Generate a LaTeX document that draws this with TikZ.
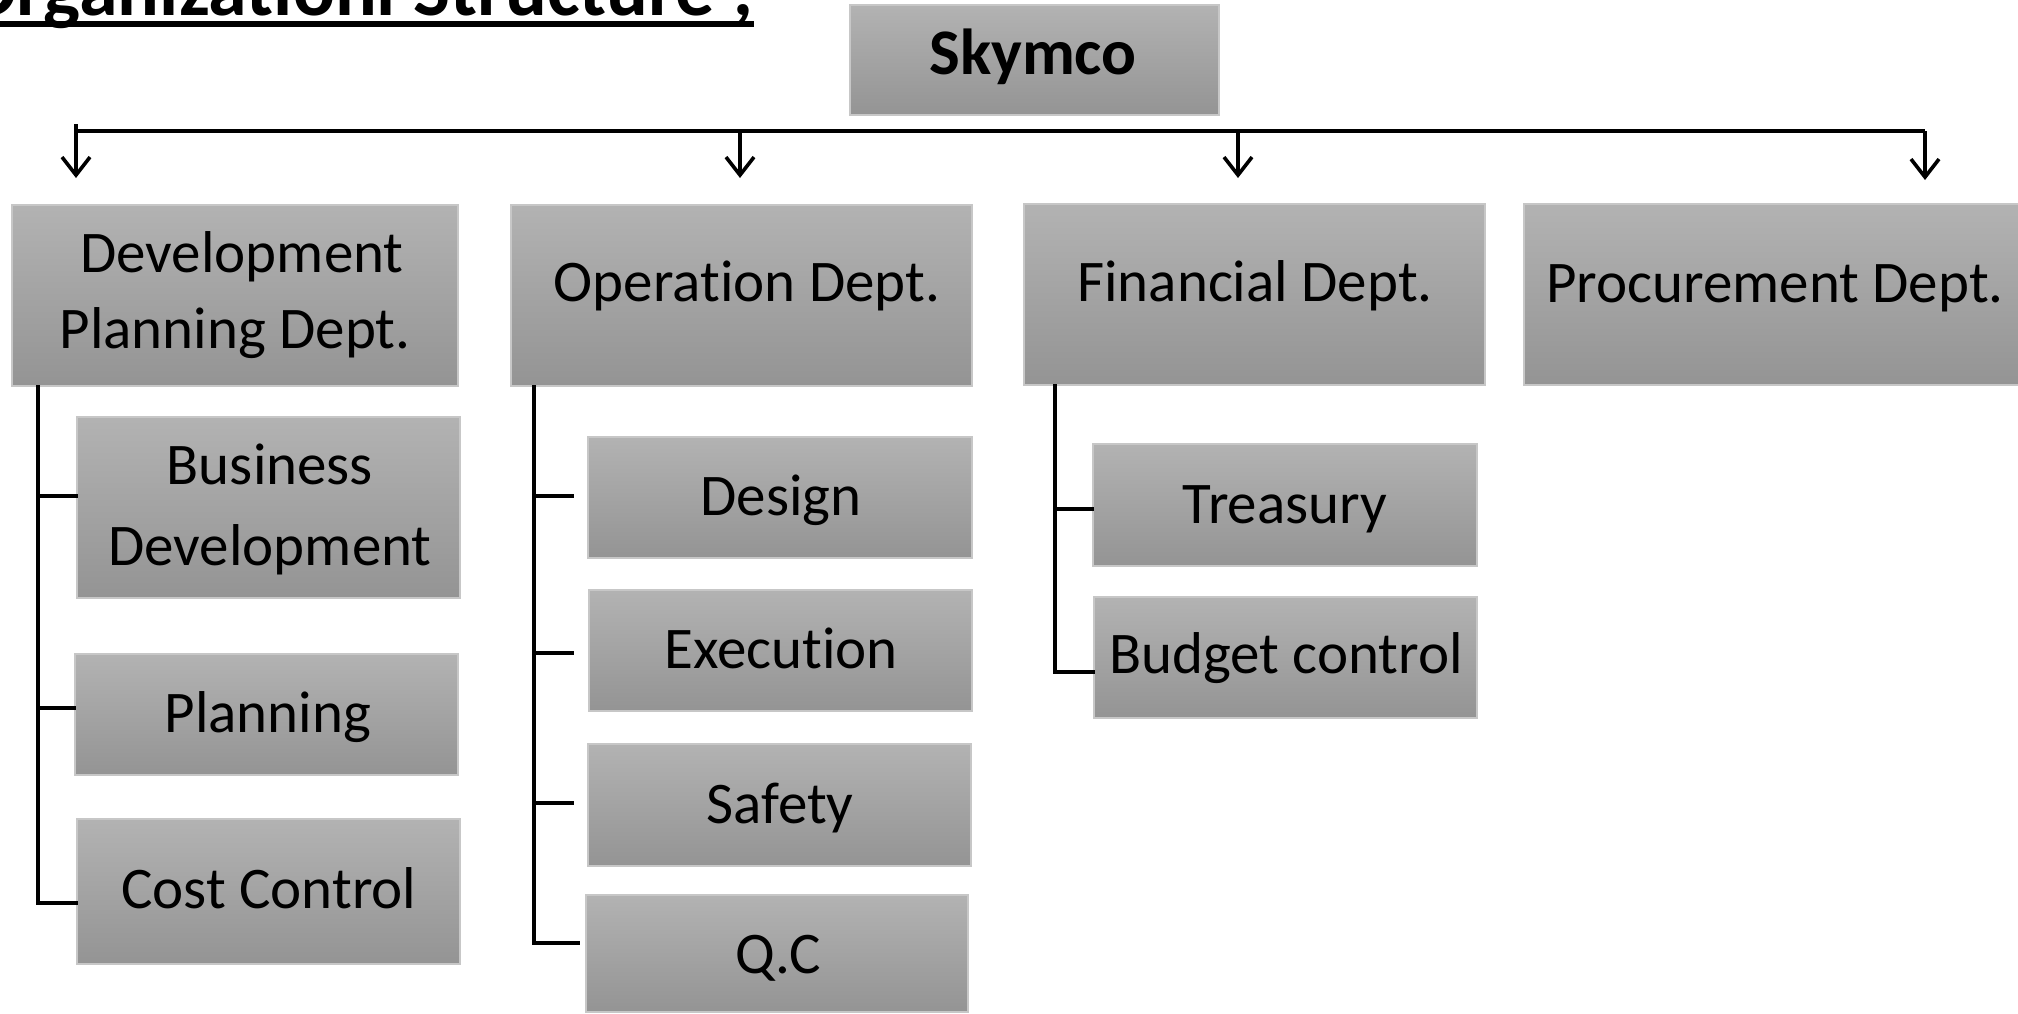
\documentclass[tikz,border=0pt]{standalone}
\usepackage{fontspec}
\setmainfont{Carlito}[RawFeature={-liga}]
\usetikzlibrary{arrows.meta}
\begin{document}
\begin{tikzpicture}[x=1pt,y=-1pt,
  box/.style={draw=black!22, line width=1.2pt, top color=black!30, bottom color=black!42, inner sep=0, rectangle},
  txt/.style={inner sep=0, anchor=base, font=\fontsize{59}{62}\selectfont},
  conn/.style={line width=4pt, black, line cap=rect, line join=miter},
  arr/.style={line width=3.6pt, black, -{Straight Barb[length=18pt,width=28pt,line width=3.6pt]}}]
\useasboundingbox (0,0) rectangle (2018,1013);
\fill[white] (0,0) rectangle (2018,1013);

% title
\node[inner sep=0, anchor=base east, font=\fontsize{78}{82}\selectfont\bfseries] (title) at (754,15) {Organizationl Structure ;};
\draw[line width=6pt] (title.base west |- 0,24) -- (title.base east |- 0,24);

% top box
\node[box, minimum width=369pt, minimum height=110pt] (sky) at (1034.5,60) {};
\node[txt, font=\fontsize{65}{68}\selectfont\bfseries] (skyt) at (1033,74) {Skymco};

% department boxes
\node[box, minimum width=446pt, minimum height=181pt] (dpd) at (235,295.5) {};
\node[box, minimum width=461pt, minimum height=181pt] (opd) at (741.5,295.5) {};
\node[box, minimum width=461pt, minimum height=181pt] (fin) at (1254.5,294.5) {};
\node[box, minimum width=506pt, minimum height=181pt] (pro) at (1777,294.5) {};
\node[txt] (dpdt1) at (242,272) {Development};
\node[txt] (dpdt2) at (235,348) {Planning Dept.};
\node[txt] (opdt) at (747,301) {Operation Dept.};
\node[txt] (fint) at (1255,301) {Financial Dept.};
\node[txt] (prot) at (1775,302) {Procurement Dept.};

% sub boxes
\node[box, minimum width=383pt, minimum height=181pt] (bd) at (268.5,507.5) {};
\node[box, minimum width=383pt, minimum height=121pt] (pl) at (266.5,714.5) {};
\node[box, minimum width=383pt, minimum height=145pt] (cc) at (268.5,891.5) {};
\node[txt] (bdt1) at (270,484) {Business};
\node[txt] (bdt2) at (270,565) {Development};
\node[txt] (plt) at (268,732) {Planning};
\node[txt] (cct) at (269,908) {Cost Control};

\node[box, minimum width=384pt, minimum height=121pt] (de) at (780,497.5) {};
\node[box, minimum width=383pt, minimum height=121pt] (ex) at (780.5,650.5) {};
\node[box, minimum width=383pt, minimum height=122pt] (sa) at (779.5,805) {};
\node[box, minimum width=382pt, minimum height=117pt] (qc) at (777,953.5) {};
\node[txt] (det) at (781,515) {Design};
\node[txt] (ext) at (781,668) {Execution};
\node[txt] (sat) at (780,823) {Safety};
\node[txt] (qct) at (778,973) {Q.C};

\node[box, minimum width=384pt, minimum height=122pt] (tr) at (1285,505) {};
\node[box, minimum width=383pt, minimum height=121pt] (bc) at (1285.5,657.5) {};
\node[txt] (trt) at (1285,523) {Treasury};
\node[txt] (bct) at (1286,673) {Budget control};

% top bar and arrows
\coordinate (bar) at (0,131);
\coordinate (a1) at (76,178);
\coordinate (a2) at (740,178);
\coordinate (a3) at (1238,178);
\coordinate (a4) at (1925,180);
\draw[line width=3.6pt] (a1 |- bar) -- (a4 |- bar);
\draw[line width=3.6pt] (a1 |- 0,124) -- (a1 |- bar);
\foreach \a in {a1,a2,a3,a4} \draw[arr] (\a |- bar) -- (\a);

% trunks: development planning
\draw[conn] ([xshift=27pt]dpd.south west) |- ([yshift=11.5pt]bd.west);
\draw[conn] ([xshift=27pt]dpd.south west) |- ([yshift=6.5pt]pl.west);
\draw[conn] ([xshift=27pt]dpd.south west) |- ([yshift=-11.5pt]cc.west);

% operation
\draw[conn, shorten >=15pt] ([xshift=24pt]opd.south west) |- ([yshift=1.5pt]de.west);
\draw[conn, shorten >=16pt] ([xshift=24pt]opd.south west) |- ([yshift=-2.5pt]ex.west);
\draw[conn, shorten >=15pt] ([xshift=24pt]opd.south west) |- ([yshift=2pt]sa.west);
\draw[conn, shorten >=7pt] ([xshift=24pt]opd.south west) |- ([yshift=10.5pt]qc.west);

% financial
\draw[conn] ([xshift=32pt]fin.south west) |- ([yshift=-4pt]tr.west);
\draw[conn] ([xshift=32pt]fin.south west) |- ([yshift=-14.5pt]bc.west);
\end{tikzpicture}
\end{document}
